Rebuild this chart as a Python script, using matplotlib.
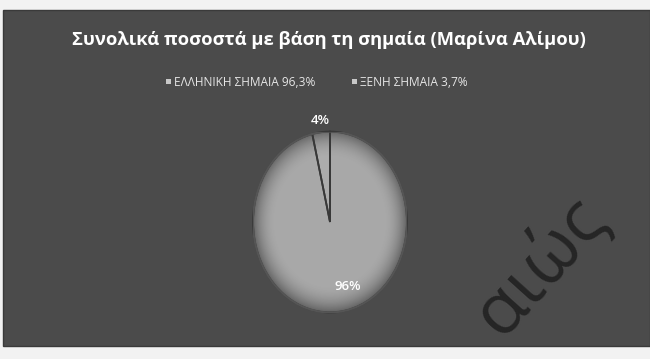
import numpy as np
import matplotlib.pyplot as plt
from matplotlib.patches import Rectangle, Ellipse

# data
labels = ['ΕΛΛΗΝΙΚΗ ΣΗΜΑΙΑ 96,3%', 'ΞΕΝΗ ΣΗΜΑΙΑ 3,7%']
values = [96.3, 3.7]
slice_labels = ['96%', '4%']
title = 'Συνολικά ποσοστά με βάση τη σημαία (Μαρίνα Αλίμου)'

plt.rcParams['font.family'] = ['Open Sans', 'DejaVu Sans']

W, H = 650, 359
fig = plt.figure(figsize=(W / 100, H / 100), dpi=100)
fig.patch.set_facecolor('#f2f2f2')

# full-figure axes in pixel coordinates for background and texts
bg = fig.add_axes([0, 0, 1, 1])
bg.set_xlim(0, W)
bg.set_ylim(H, 0)
bg.axis('off')
bg.add_patch(Rectangle((3, 10), 647, 336, facecolor='#4b4b4b', edgecolor='#3a3a3a', lw=1))

bg.text(329, 40, title, ha='center', va='center', color='white',
        fontsize=13.2, fontweight='bold')

# legend
leg_x = [172, 358]
for x, lab in zip(leg_x, labels):
    bg.add_patch(Rectangle((x - 6, 79), 5, 5, facecolor='#c8c8c8', edgecolor='none'))
    bg.text(x + 2, 82, lab, ha='left', va='center', color='#e6e6e6', fontsize=8.6)

# pie
cx, cy, pw, ph = 330, 222, 154, 181
ax = fig.add_axes([(cx - pw / 2) / W, (H - cy - ph / 2) / H, pw / W, ph / H])
ax.pie(values, startangle=90, counterclock=False,
       colors=['#a8a8a8', '#acacac'], wedgeprops=dict(edgecolor='none'))
ax.axis('off')

# darker rim like the original
yy, xx = np.mgrid[-1:1:300j, -1:1:300j]
rr = np.sqrt(xx ** 2 + yy ** 2)
rgba = np.zeros((300, 300, 4))
rgba[..., 3] = 0.4 * np.clip((rr - 0.7) / 0.3, 0, 1) ** 2
img = ax.imshow(rgba, extent=(-1, 1, -1, 1), zorder=3, aspect='auto')
img.set_clip_path(Ellipse((0, 0), 2, 2, transform=ax.transData))
ax.pie(values, startangle=90, counterclock=False, colors=['none', 'none'],
       wedgeprops=dict(edgecolor='#383838', linewidth=1.3, zorder=4))
ax.add_patch(Ellipse((0, 0), 2, 2, facecolor='none', edgecolor='#555555', lw=1.5, zorder=5))
ax.set_aspect('auto')
ax.set_xlim(-1, 1)
ax.set_ylim(-1, 1)

# slice labels, placed in figure pixels but drawn above the pie
ax.text(348, 287, slice_labels[0], ha='center', va='center', color='white',
        fontsize=9.5, fontweight='semibold', transform=bg.transData, zorder=6)
ax.text(320, 121, slice_labels[1], ha='center', va='center', color='white',
        fontsize=9.5, fontweight='semibold', transform=bg.transData, zorder=6)

# watermark
ax.text(540, 266, 'αιώς', ha='center', va='center', rotation=48, color='black',
        alpha=0.5, fontsize=52, transform=bg.transData, zorder=7)

fig.savefig('out.png', dpi=100, facecolor=fig.get_facecolor())
plt.close(fig)
